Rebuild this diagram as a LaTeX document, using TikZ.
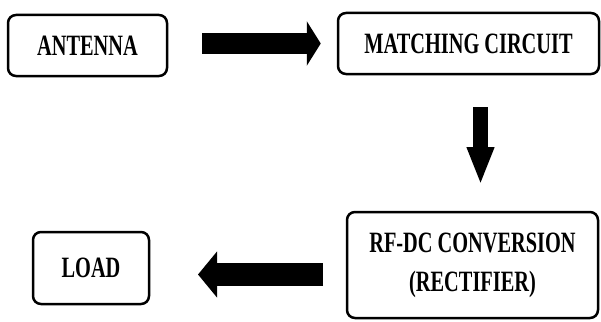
\documentclass[tikz,border=0pt]{standalone}
\usepackage{fontspec}
\setmainfont{Liberation Serif}[FakeStretch=0.69]
\usetikzlibrary{arrows.meta}
\tikzset{
  blockbox/.style={draw=black, line width=2.5pt, rounded corners=8pt, inner sep=0pt,
    font=\fontsize{29.5}{39}\selectfont\bfseries, align=center, fill=white},
  bigarrow/.style={line width=#1, draw=black},
}
\begin{document}
\begin{tikzpicture}[x=1pt,y=-1pt]
\useasboundingbox (0,0) rectangle (601,321);
\node[blockbox, minimum width=159pt, minimum height=61pt] (ant) at (87.5,45.5) {ANTENNA};
\node[blockbox, minimum width=261pt, minimum height=61pt] (match) at (468.5,43.5) {MATCHING CIRCUIT};
\node[blockbox, minimum width=251pt, minimum height=106pt] (rf) at (472.5,265) {RF-DC CONVERSION\\(RECTIFIER)};
\node[blockbox, minimum width=116pt, minimum height=72pt] (load) at (91,268) {LOAD};
% right arrow
\draw[bigarrow=21pt, -{Triangle[length=14pt,width=44pt]}, shorten <=34pt, shorten >=16pt]
  (ant.east |- match.west) -- (match.west);
% down arrow
\coordinate (d1) at (480.5,107);
\coordinate (d2) at (480.5,185);
\draw[bigarrow=15pt, -{Triangle[length=38pt,width=25pt]}] (d1) -- (d2);
% left arrow
\coordinate (l1) at (323,274.5);
\coordinate (l2) at (198,274.5);
\draw[bigarrow=23pt, -{Triangle[length=19pt,width=45pt]}] (l1) -- (l2);
\end{tikzpicture}
\end{document}
